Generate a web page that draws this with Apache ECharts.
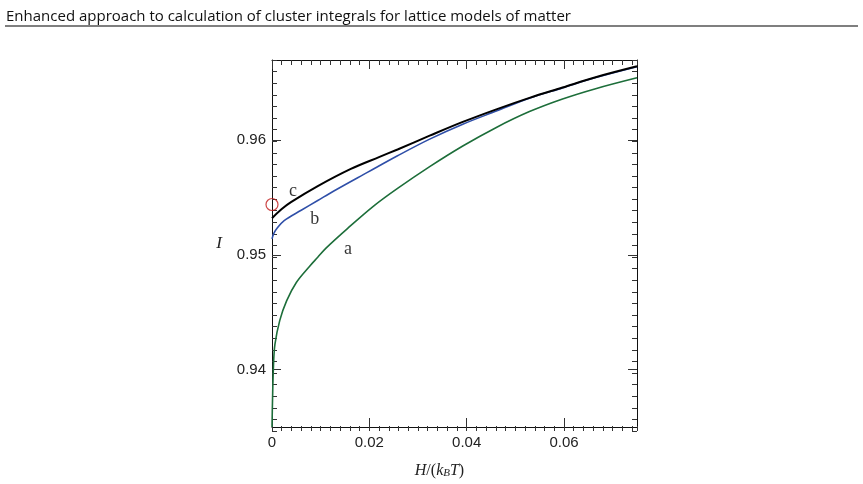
<!DOCTYPE html>
<html>
<head>
<meta charset="utf-8">
<script src="https://cdn.jsdelivr.net/npm/echarts@6/dist/echarts.min.js"></script>
<style>html,body{margin:0;padding:0;background:#fff;}#c{width:863px;height:484px;}</style>
</head>
<body>
<div id="c"></div>
<script>
// ---- data ----
var xTickLabels = [0, 0.02, 0.04, 0.06];
var yTickLabels = [0.94, 0.95, 0.96];

var curveA = [[0, 0.9350], [0.0001, 0.9372], [0.0003, 0.9403], [0.0006, 0.9422], [0.0016, 0.9443],
  [0.003, 0.9460], [0.005, 0.9476], [0.0077, 0.9490], [0.0094, 0.9498], [0.0111, 0.9506],
  [0.0155, 0.9523], [0.021, 0.9543], [0.0258, 0.9558], [0.0324, 0.9577], [0.0392, 0.9595],
  [0.046, 0.9611], [0.0529, 0.9625], [0.0597, 0.9636], [0.0665, 0.9645], [0.075, 0.96545]];
var curveB = [[0, 0.9514], [0.0004, 0.9519], [0.001, 0.9523], [0.0025, 0.9530], [0.006, 0.9539],
  [0.0094, 0.95475], [0.0128, 0.9556], [0.0196, 0.9572], [0.0258, 0.95865], [0.0324, 0.9601],
  [0.0392, 0.9614], [0.0461, 0.96255], [0.0529, 0.96367], [0.0597, 0.96457], [0.0665, 0.96547],
  [0.075, 0.96642]];
var curveC = [[0, 0.9532], [0.002, 0.9540], [0.0039, 0.9546], [0.0094, 0.9560], [0.0162, 0.9575],
  [0.0221, 0.95855], [0.0258, 0.9592], [0.0324, 0.9604], [0.0392, 0.9616], [0.0461, 0.9627],
  [0.0529, 0.9637], [0.0597, 0.9646], [0.0665, 0.9655], [0.075, 0.96645]];
var markerPoint = [[0, 0.9544]];
var curveLabels = [{name: 'c', value: [0.0043, 0.95556]}, {name: 'b', value: [0.0088, 0.95314]}, {name: 'a', value: [0.0156, 0.95047]}];

var xMin = 0, xMax = 0.075, yMin = 0.935, yMax = 0.967;

// ---- chart ----
var chart = echarts.init(document.getElementById('c'), null, {renderer: 'canvas'});
var gridRect = {left: 272, right: 226, top: 60, bottom: 53};
var tickFont = {fontFamily: 'Liberation Sans', fontSize: 15, color: '#222'};
var lineBlack = {show: true, onZero: false, lineStyle: {color: '#111', width: 1}};

function majorX(pos, labels) {
  return {
    type: 'value', gridIndex: 0, position: pos, min: xMin, max: xMax,
    axisLine: lineBlack,
    axisTick: {show: true, inside: true, length: 9, customValues: xTickLabels, lineStyle: {color: '#333', width: 1}},
    axisLabel: labels ? Object.assign({show: true, margin: 8, customValues: xTickLabels, formatter: function (v) { return v === 0 ? '0' : String(v); }}, tickFont) : {show: false},
    splitLine: {show: false}
  };
}
function minorX(pos) {
  return {
    type: 'value', gridIndex: 1, position: pos, min: xMin, max: xMax, interval: 0.002,
    axisLine: {show: false, onZero: false},
    axisTick: {show: true, inside: true, length: 5, lineStyle: {color: '#333', width: 1}},
    axisLabel: {show: false}, splitLine: {show: false}
  };
}
function majorY(pos, labels) {
  return {
    type: 'value', gridIndex: 0, position: pos, min: yMin, max: yMax,
    axisLine: lineBlack,
    axisTick: {show: true, inside: true, length: 9, customValues: yTickLabels, lineStyle: {color: '#333', width: 1}},
    axisLabel: labels ? Object.assign({show: true, margin: 6, customValues: yTickLabels}, tickFont) : {show: false},
    splitLine: {show: false}
  };
}
function minorY(pos) {
  return {
    type: 'value', gridIndex: 1, position: pos, min: yMin, max: yMax, interval: 0.001,
    axisLine: {show: false, onZero: false},
    axisTick: {show: true, inside: true, length: 5, lineStyle: {color: '#333', width: 1}},
    axisLabel: {show: false}, splitLine: {show: false}
  };
}

var xb = majorX('bottom', true);
xb.name = '{i|H}/({i|k}{sub|B}{i|T})';
xb.nameLocation = 'middle';
xb.nameGap = 35;
xb.nameTextStyle = {
  fontFamily: 'Liberation Serif', fontSize: 16, color: '#222', padding: [0, 30, 0, 0],
  rich: {
    i: {fontFamily: 'Liberation Serif', fontStyle: 'italic', fontSize: 16, color: '#222'},
    sub: {fontFamily: 'Liberation Serif', fontStyle: 'italic', fontSize: 11, color: '#222', verticalAlign: 'bottom', padding: [6, 0, 0, 0]}
  }
};
var yl = majorY('left', true);
yl.name = 'I';
yl.nameLocation = 'middle';
yl.nameRotate = 0;
yl.nameGap = 50;
yl.nameTextStyle = {fontFamily: 'Liberation Serif', fontStyle: 'italic', fontSize: 17, color: '#222', padding: [0, 0, 18, 0]};

var option = {
  backgroundColor: '#fff',
  animation: false,
  title: {
    text: 'Enhanced approach to calculation of cluster integrals for lattice models of matter',
    left: 1, top: 4,
    textStyle: {fontFamily: 'Open Sans', fontSize: 15, fontWeight: 'normal', color: '#111'}
  },
  graphic: [{type: 'line', shape: {x1: 5, y1: 26, x2: 858, y2: 26}, style: {stroke: '#000', lineWidth: 1.2}}],
  grid: [Object.assign({}, gridRect), Object.assign({}, gridRect)],
  xAxis: [xb, majorX('top', false), minorX('bottom'), minorX('top')],
  yAxis: [yl, majorY('right', false), minorY('left'), minorY('right')],
  series: [
    {type: 'line', name: 'a', data: curveA, xAxisIndex: 0, yAxisIndex: 0, smooth: 0.35, showSymbol: false,
      lineStyle: {color: '#1d6e3a', width: 1.6}, z: 3},
    {type: 'line', name: 'b', data: curveB, xAxisIndex: 0, yAxisIndex: 0, smooth: 0.35, showSymbol: false,
      lineStyle: {color: '#2f4fa8', width: 1.6}, z: 3},
    {type: 'line', name: 'c', data: curveC, xAxisIndex: 0, yAxisIndex: 0, smooth: 0.35, showSymbol: false,
      lineStyle: {color: '#000', width: 2}, z: 4},
    {type: 'scatter', data: markerPoint, xAxisIndex: 0, yAxisIndex: 0, symbol: 'circle', symbolSize: 12, clip: false,
      itemStyle: {color: 'rgba(0,0,0,0)', borderColor: '#c01a1a', borderWidth: 1.2}, z: 5},
    {type: 'scatter', data: curveLabels, xAxisIndex: 0, yAxisIndex: 0, symbolSize: 0, z: 6,
      label: {show: true, position: 'inside', formatter: '{b}', fontFamily: 'Liberation Serif', fontSize: 18, color: '#000'}}
  ]
};
chart.setOption(option);
</script>
</body>
</html>
